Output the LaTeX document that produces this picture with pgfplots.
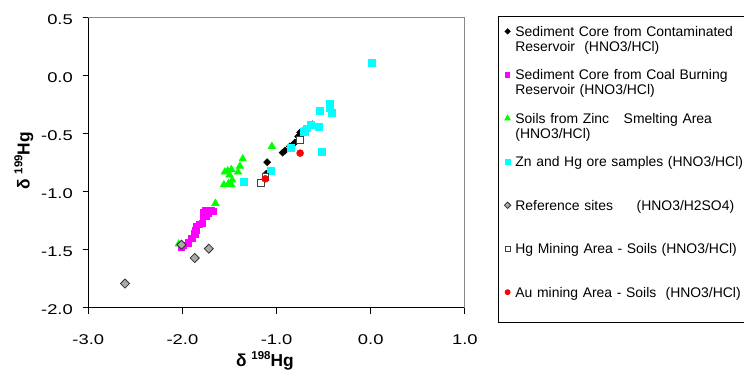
\documentclass[border=0pt]{standalone}
\usepackage{pgfplots}
\pgfplotsset{compat=1.18}
\usepackage{fontspec}
\setmainfont{Liberation Sans}
\newfontfamily\tickfont[FakeStretch=1.3]{Liberation Sans}
\definecolor{cyanx}{RGB}{0,255,255}
\definecolor{magx}{RGB}{255,0,255}
\definecolor{greenx}{RGB}{0,255,0}
\definecolor{redx}{RGB}{255,0,0}
\definecolor{grayx}{RGB}{170,170,170}
\definecolor{framegray}{RGB}{136,136,136}
\newcommand{\supx}[1]{\raisebox{0.42em}{\fontsize{8.6}{9}\selectfont #1}}
\begin{document}
\begin{tikzpicture}
\path[use as bounding box] (-66.2pt,-48.75pt) rectangle (491.8pt,231pt);
\begin{axis}[
  at={(0,0)}, anchor=south west,
  scale only axis, width=282.5pt, height=218pt,
  xmin=-3, xmax=1, ymin=-2, ymax=0.5,
  axis x line*=bottom, axis y line*=left,
  axis line style={-, black, line width=0.75pt},
  xtick={-3,-2,-1,0,1}, xticklabels={-3.0,-2.0,-1.0,0.0,1.0},
  ytick={-2,-1.5,-1,-0.5,0,0.5}, yticklabels={-2.0,-1.5,-1.0,-0.5,0.0,0.5},
  tick align=outside, major tick length=4.3pt,
  tick style={black, line width=0.75pt},
  ticklabel style={font=\tickfont\fontsize{10.6}{12}\selectfont},
  xticklabel style={yshift=-12pt},
  yticklabel style={xshift=-3.75pt, yshift=-1.5pt},
  xlabel={δ \supx{198}Hg},
  ylabel={δ \supx{199}Hg},
  label style={font=\bfseries\fontsize{13}{14}\selectfont},
  xlabel style={at={(axis description cs:0.469,-0.202)}, anchor=base},
  ylabel style={at={(axis description cs:-0.171,0.506)}, anchor=center},
  clip=false,
  legend style={
    at={(axis description cs:1.0876,1.0045)}, anchor=north west,
    draw=black, line width=0.75pt, fill=white,
    inner xsep=4.5pt, inner ysep=0.5pt,
    column sep=3.5pt,
    cells={anchor=base west},
    nodes={inner sep=0pt, text width=190pt, align=left, text height=14.4pt, text depth=18.2pt, font=\fontsize{10.45}{11.3}\selectfont},
  },
  legend image code/.code={\draw[#1, every mark/.append style={scale=0.7}] plot coordinates {(0pt,3.75pt)};},
]
% Sediment core contaminated reservoir
\addplot[only marks, mark=square*, mark size=1.86pt, mark options={rotate=45, fill=black, draw=black}] coordinates {
(-0.936,-0.663) (-0.91,-0.646) (-0.86,-0.61) (-0.84,-0.606) (-0.805,-0.577)
(-0.77,-0.525) (-0.75,-0.49) (-0.73,-0.48) (-0.62,-0.42) (-0.70,-0.47)
(-1.10,-0.746) (-1.11,-0.846)
};
\addlegendentry{Sediment Core from Contaminated\\Reservoir\ \ (HNO3/HCl)}
% Coal burning reservoir
\addplot[only marks, mark=square*, mark size=2.4pt, mark options={fill=magx, draw=magx}] coordinates {
(-1.67,-1.17) (-1.70,-1.16) (-1.73,-1.18) (-1.76,-1.16) (-1.78,-1.18)
(-1.75,-1.21) (-1.78,-1.21) (-1.79,-1.27) (-1.82,-1.28) (-1.85,-1.30)
(-1.86,-1.33) (-1.87,-1.36) (-1.90,-1.40) (-1.94,-1.44) (-1.99,-1.46) (-2.01,-1.48)
};
\addlegendentry{Sediment Core from Coal Burning\\Reservoir (HNO3/HCl)}
% Soils zinc smelting
\addplot[only marks, mark=triangle*, mark size=3.2pt, mark options={fill=greenx, draw=greenx}] coordinates {
(-1.05,-0.61) (-1.36,-0.717) (-1.39,-0.78) (-1.41,-0.83) (-1.55,-0.83)
(-1.52,-0.82) (-1.48,-0.81) (-1.50,-0.855) (-1.47,-0.90) (-1.56,-0.94)
(-1.48,-0.94) (-1.51,-0.93) (-1.65,-1.10) (-2.04,-1.45)
};
\addlegendentry{Soils from Zinc\hspace{1.05em}Smelting Area\\(HNO3/HCl)}
% Zn and Hg ore
\addplot[only marks, mark=square*, mark size=2.6pt, mark options={fill=cyanx, draw=cyanx}] coordinates {
(0.01,0.11) (-0.44,-0.245) (-0.433,-0.28) (-0.415,-0.32) (-0.54,-0.305)
(-0.638,-0.428) (-0.68,-0.454) (-0.557,-0.445) (-0.696,-0.488) (-0.717,-0.483)
(-0.518,-0.657) (-0.847,-0.625) (-1.06,-0.823) (-1.35,-0.912)
};
\addlegendentry{Zn and Hg ore samples (HNO3/HCl)}
% Reference sites
\addplot[only marks, mark=square*, mark size=2.4pt, mark options={rotate=45, fill=grayx, draw=black!80, line width=0.6pt}] coordinates {
(-2.61,-1.79) (-2.01,-1.456) (-1.87,-1.57) (-1.72,-1.49)
};
\addlegendentry{Reference sites\hspace{1.7em}(HNO3/H2SO4)}
% Hg mining soils
\addplot[only marks, mark=square*, mark size=2.5pt, mark options={fill=white, draw=black!75, line width=0.6pt}] coordinates {
(-1.166,-0.926) (-0.755,-0.554) (-1.12,-0.87)
};
\addlegendentry{Hg Mining Area - Soils (HNO3/HCl)}
% Au mining soils
\addplot[only marks, mark=*, mark size=2.6pt, mark options={fill=redx, draw=redx}] coordinates {
(-1.12,-0.889) (-0.75,-0.668)
};
\addlegendentry{Au mining Area - Soils\ \ (HNO3/HCl)}
\draw[framegray, line width=0.75pt] (rel axis cs:0,1) -- (rel axis cs:1,1) -- (rel axis cs:1,0);
\end{axis}
\end{tikzpicture}
\end{document}
